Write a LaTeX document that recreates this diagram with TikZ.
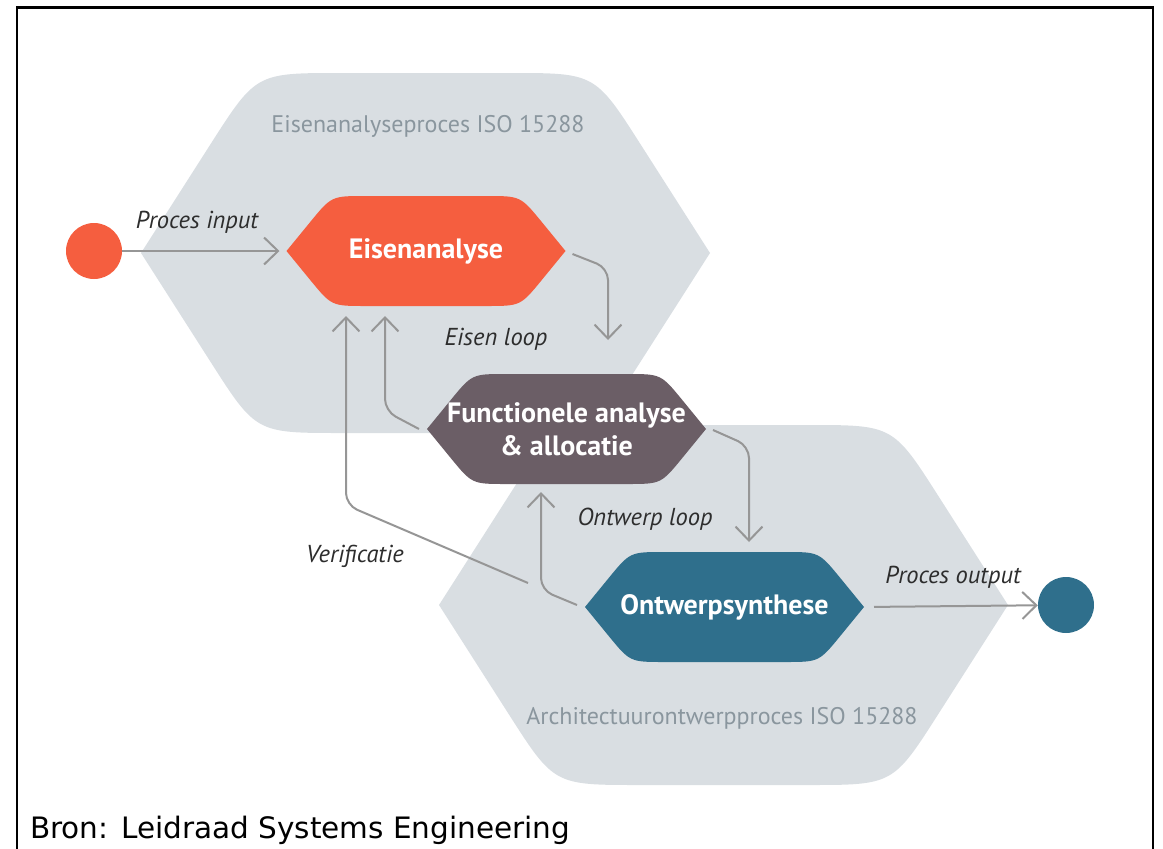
\documentclass[tikz,border=0pt]{standalone}
\usepackage{fontspec}
\setmainfont{PT Sans}
\newfontfamily\captionfont{DejaVu Sans}
\usetikzlibrary{arrows.meta,calc}

\definecolor{hexgray}{RGB}{217,222,226}
\definecolor{eisenorange}{RGB}{245,94,63}
\definecolor{functiemauve}{RGB}{107,94,102}
\definecolor{ontwerpteal}{RGB}{47,111,140}
\definecolor{linegray}{RGB}{150,150,150}
\definecolor{labelgray}{RGB}{138,150,158}
\definecolor{labeldark}{RGB}{45,45,45}

% Hexagon with sharp side vertices and rounded top/bottom corners.
% #1 name, #2 cx, #3 cy, #4 half width, #5 half height,
% #6 horizontal run of the slanted sides, #7 corner rounding, #8 fill
\newcommand\hexfill[8]{%
  \coordinate (#1-L)  at ({#2-#4},{#3});
  \coordinate (#1-R)  at ({#2+#4},{#3});
  \coordinate (#1-TL) at ({#2-#4+#6},{#3-#5});
  \coordinate (#1-TR) at ({#2+#4-#6},{#3-#5});
  \coordinate (#1-BL) at ({#2-#4+#6},{#3+#5});
  \coordinate (#1-BR) at ({#2+#4-#6},{#3+#5});
  \fill[#8] (#1-L) -- ($(#1-TL)!#7!(#1-L)$) .. controls (#1-TL) .. ($(#1-TL)!#7!(#1-TR)$)
    -- ($(#1-TR)!#7!(#1-TL)$) .. controls (#1-TR) .. ($(#1-TR)!#7!(#1-R)$)
    -- (#1-R) -- ($(#1-BR)!#7!(#1-R)$) .. controls (#1-BR) .. ($(#1-BR)!#7!(#1-BL)$)
    -- ($(#1-BL)!#7!(#1-BR)$) .. controls (#1-BL) .. ($(#1-BL)!#7!(#1-L)$) -- cycle;
}

\tikzset{
  steptext/.style={text=white, font=\bfseries\fontsize{28}{33}\selectfont, align=center, inner sep=0pt},
  processlabel/.style={text=labelgray, font=\fontsize{24}{28}\selectfont, inner sep=0pt},
  flowlabel/.style={text=labeldark, font=\itshape\fontsize{24.5}{28}\selectfont, inner sep=0pt},
  flow/.style={draw=linegray, line width=2pt, -{Straight Barb[length=14pt,width=27pt]}},
  terminal/.style={circle, inner sep=0pt, minimum size=56pt},
}

\begin{document}
\begin{tikzpicture}[x=1pt, y=-1pt]
\useasboundingbox (0,0) rectangle (1163,849);

% outer frame, open at the bottom
\draw[line width=2.5pt] (17,849) -- (17,7.5) -- (1153,7.5) -- (1153,849);

% the two ISO 15288 process areas
\hexfill{reqarea}{425.5}{253}{284.5}{180}{115}{85pt}{hexgray}
\hexfill{archarea}{723.5}{605}{284.5}{180}{115}{85pt}{hexgray}
\node[processlabel] (lblReq) at (428,126) {Eisenanalyseproces ISO 15288};
\node[processlabel] (lblArch) at (722,718) {Architectuurontwerpproces ISO 15288};

% process steps
\hexfill{ea}{426}{251}{139.5}{55}{45}{34pt}{eisenorange}
\hexfill{fa}{566.5}{429}{139.5}{55}{45}{34pt}{functiemauve}
\hexfill{os}{724.5}{607}{139.5}{55}{45}{34pt}{ontwerpteal}
\node[steptext] (eisen) at (426,251) {Eisenanalyse};
\node[steptext] (functie) at (566.5,429) {Functionele analyse\\\& allocatie};
\node[steptext] (ontwerp) at (724.5,607) {Ontwerpsynthese};

% start and end points
\node[terminal, fill=eisenorange] (in) at (94,251) {};
\node[terminal, fill=ontwerpteal] (out) at (1066,605) {};

% free ends of the loop arrows
\coordinate (eisenIn)   at (608,340);
\coordinate (eisenBack) at (385,316);
\coordinate (verifEnd)  at (346,316);
\coordinate (functBack) at (541,492);
\coordinate (ontwIn)    at (749,542);

% connectors
\draw[flow, shorten >=7pt] (in) -- (ea-L);
\draw[flow, shorten <=10pt] (os-R) -- (out);
\draw[flow, rounded corners=12pt] ($(ea-R)+(7,3)$) -- (608,268) -- (eisenIn);
\draw[flow, rounded corners=12pt] ($(fa-L)+(-8,0)$) -- (385,411) -- (eisenBack);
\draw[flow, rounded corners=12pt] ($(os-L)+(-57,-24)$) -- (346,505) -- (verifEnd);
\draw[flow, rounded corners=12pt] ($(os-L)+(-8,-2)$) -- (541,590) -- (functBack);
\draw[flow, rounded corners=12pt] ($(fa-R)+(7,1)$) -- (749,446) -- (ontwIn);

% connector labels
\node[flowlabel] (lblIn)   at (197,222) {Proces input};
\node[flowlabel] (lblEis)  at (496,339) {Eisen loop};
\node[flowlabel] (lblOnt)  at (645,519) {Ontwerp loop};
\node[flowlabel] (lblVer)  at (355,556) {Verificatie};
\node[flowlabel] (lblOut)  at (953,577) {Proces output};

% source line
\node[anchor=base west, inner sep=0pt, font=\captionfont\fontsize{29.5}{33}\selectfont] (bron) at (30,838) {Bron: Leidraad Systems Engineering};
\end{tikzpicture}
\end{document}
